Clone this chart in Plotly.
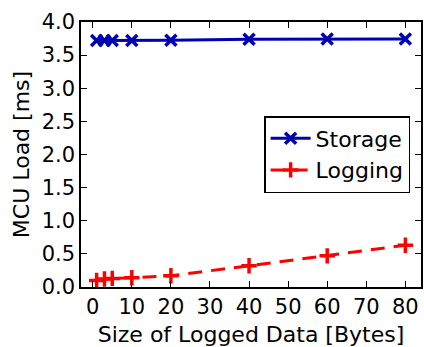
import plotly.graph_objects as go

sizes = [1, 3, 5, 10, 20, 40, 60, 80]
storage = [3.72, 3.72, 3.72, 3.72, 3.725, 3.74, 3.745, 3.745]
logging = [0.10, 0.12, 0.13, 0.14, 0.17, 0.32, 0.47, 0.63]
xticks = [0, 10, 20, 30, 40, 50, 60, 70, 80]
yticks = [0.0, 0.5, 1.0, 1.5, 2.0, 2.5, 3.0, 3.5, 4.0]

FONT = "DejaVu Sans"
fig = go.Figure()
fig.add_trace(go.Scatter(
    x=sizes, y=storage, name="Storage", mode="lines+markers",
    line=dict(color="#0000b4", width=3),
    marker=dict(symbol="x-thin", size=11, line=dict(color="#0000b4", width=3.5)),
))
fig.add_trace(go.Scatter(
    x=sizes, y=logging, name="Logging", mode="lines+markers",
    line=dict(color="#ff0000", width=3, dash="14px,9px"),
    marker=dict(symbol="cross-thin", size=11, line=dict(color="#ff0000", width=3.5)),
))
axis_common = dict(
    showline=True, linecolor="black", linewidth=1.5, mirror="ticks",
    ticks="inside", ticklen=6, tickcolor="black", tickwidth=1,
    showgrid=False, zeroline=False,
    tickfont=dict(family=FONT, size=21, color="black"),
)
fig.update_xaxes(range=[-3, 84], tickvals=xticks,
                 ticktext=[str(v) for v in xticks],
                 title=dict(text="Size of Logged Data [Bytes]",
                            font=dict(family=FONT, size=22, color="black"), standoff=9),
                 **axis_common)
fig.update_yaxes(range=[0, 4], tickvals=yticks,
                 ticktext=[f"{v:.1f}" for v in yticks],
                 title=dict(text="MCU Load [ms]",
                            font=dict(family=FONT, size=22, color="black"), standoff=6),
                 **axis_common)
fig.update_layout(
    width=424, height=347,
    margin=dict(l=81, r=1, t=22, b=60),
    paper_bgcolor="white", plot_bgcolor="white",
    font=dict(family=FONT, color="black"),
    legend=dict(x=0.968, y=0.5, xanchor="right", yanchor="middle",
                bgcolor="white", bordercolor="black", borderwidth=1.5,
                itemwidth=40,
                font=dict(family=FONT, size=22, color="black")),
)
fig.write_html("out.html")
